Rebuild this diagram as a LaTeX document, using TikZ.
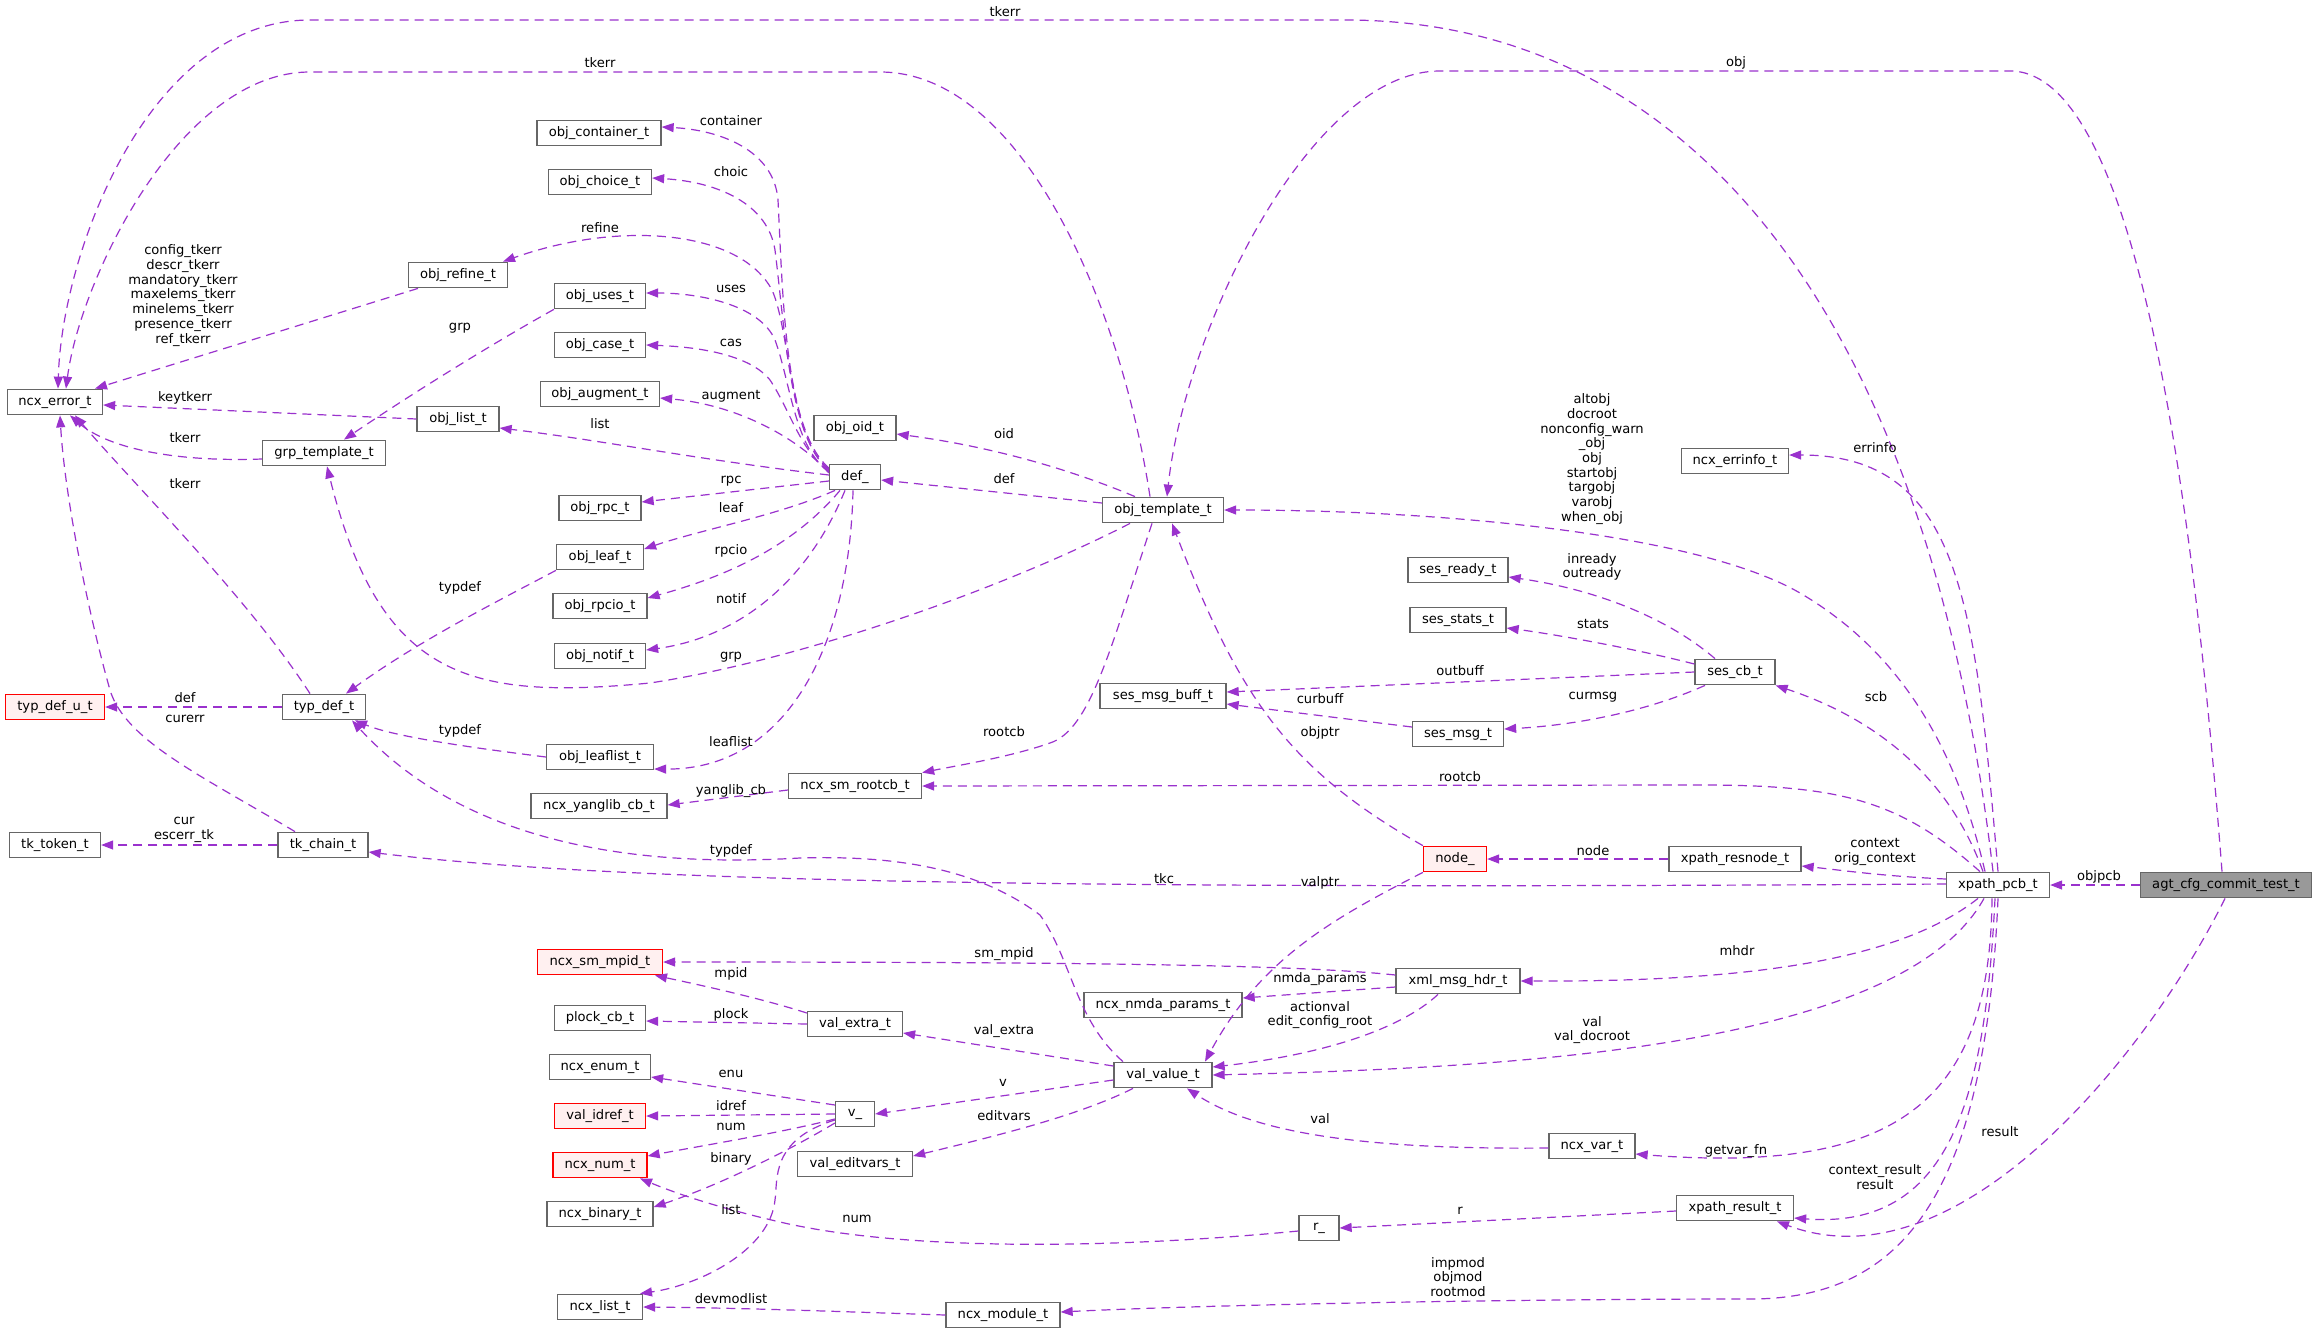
\documentclass[tikz,border=0pt]{standalone}
\usepackage{fontspec}
\setmainfont{DejaVu Sans}
\usetikzlibrary{arrows.meta}
\definecolor{edgec}{HTML}{9A32CD}
\definecolor{boxc}{HTML}{666666}
\definecolor{redc}{HTML}{FF0000}
\definecolor{redf}{HTML}{FFF0F0}
\definecolor{rootf}{HTML}{999999}
\begin{document}
\begin{tikzpicture}[x=1pt,y=-1pt,
  cls/.style={draw=boxc, fill=white, line width=1.3pt, minimum height=25.5pt, inner sep=0pt, font=\fontsize{13.1}{14.7}\selectfont},
  redcls/.style={cls, draw=redc, fill=redf},
  rootcls/.style={cls, fill=rootf},
  lnk/.style={draw=edgec, line width=1.2pt, dash pattern=on 9pt off 6pt, -{Triangle[length=12pt,width=9pt]}},
  lbl/.style={inner sep=0pt, align=center, font=\fontsize{13.1}{14.7}\selectfont}
]
\fill[white] (0,0) rectangle (2317,1333);
\useasboundingbox (0,0) rectangle (2317,1333);

% ---------- nodes ----------
\node[rootcls, minimum width=171pt] (agt) at (2226,885) {agt\_cfg\_commit\_test\_t};
\node[cls, minimum width=103pt] (pcb) at (1998,885) {xpath\_pcb\_t};
\node[cls, minimum width=132pt] (res) at (1735,859) {xpath\_resnode\_t};
\node[redcls, minimum width=63pt] (nodeu) at (1455,859) {node\_};
\node[cls, minimum width=117pt] (xres) at (1735,1208) {xpath\_result\_t};
\node[cls, minimum width=86pt] (var) at (1592,1146) {ncx\_var\_t};
\node[cls, minimum width=124pt] (xml) at (1458,981) {xml\_msg\_hdr\_t};
\node[cls, minimum width=158pt] (nmda) at (1163,1005) {ncx\_nmda\_params\_t};
\node[cls, minimum width=98pt] (val) at (1163,1075) {val\_value\_t};
\node[cls, minimum width=95pt] (vext) at (855,1024) {val\_extra\_t};
\node[cls, minimum width=39pt] (vv) at (855,1114) {v\_};
\node[cls, minimum width=115pt] (vedit) at (855,1164) {val\_editvars\_t};
\node[cls, minimum width=40pt] (r) at (1319,1228) {r\_};
\node[cls, minimum width=114pt] (mod) at (1003,1315) {ncx\_module\_t};
\node[cls, minimum width=85pt] (list) at (600,1307) {ncx\_list\_t};
\node[cls, minimum width=106pt] (binary) at (600,1214) {ncx\_binary\_t};
\node[redcls, minimum width=94pt] (num) at (600,1165) {ncx\_num\_t};
\node[redcls, minimum width=91pt] (idref) at (600,1116) {val\_idref\_t};
\node[cls, minimum width=101pt] (enum) at (600,1067) {ncx\_enum\_t};
\node[cls, minimum width=91pt] (plock) at (600,1018) {plock\_cb\_t};
\node[redcls, minimum width=125pt] (mpid) at (600,962) {ncx\_sm\_mpid\_t};
\node[cls, minimum width=136pt] (yang) at (599,806) {ncx\_yanglib\_cb\_t};
\node[cls, minimum width=133pt] (rootcb) at (855,786) {ncx\_sm\_rootcb\_t};
\node[cls, minimum width=121pt] (tmpl) at (1163,510) {obj\_template\_t};
\node[cls, minimum width=51pt] (def) at (855,477) {def\_};
\node[cls, minimum width=82pt] (oid) at (855,428) {obj\_oid\_t};
\node[cls, minimum width=107pt] (errinfo) at (1735,461) {ncx\_errinfo\_t};
\node[cls, minimum width=100pt] (ready) at (1458,570) {ses\_ready\_t};
\node[cls, minimum width=96pt] (stats) at (1458,620) {ses\_stats\_t};
\node[cls, minimum width=80pt] (sescb) at (1735,672) {ses\_cb\_t};
\node[cls, minimum width=126pt] (buff) at (1163,696) {ses\_msg\_buff\_t};
\node[cls, minimum width=91pt] (msg) at (1458,734) {ses\_msg\_t};
\node[cls, minimum width=95pt] (err) at (55,402) {ncx\_error\_t};
\node[cls, minimum width=124pt] (cont) at (599,133) {obj\_container\_t};
\node[cls, minimum width=103pt] (choice) at (600,182) {obj\_choice\_t};
\node[cls, minimum width=99pt] (refine) at (458,275) {obj\_refine\_t};
\node[cls, minimum width=91pt] (uses) at (600,296) {obj\_uses\_t};
\node[cls, minimum width=91pt] (case) at (600,345) {obj\_case\_t};
\node[cls, minimum width=119pt] (aug) at (600,394) {obj\_augment\_t};
\node[cls, minimum width=82pt] (olist) at (458,419) {obj\_list\_t};
\node[cls, minimum width=123pt] (grp) at (324,453) {grp\_template\_t};
\node[cls, minimum width=82pt] (rpc) at (600,508) {obj\_rpc\_t};
\node[cls, minimum width=87pt] (leaf) at (600,557) {obj\_leaf\_t};
\node[cls, minimum width=94pt] (rpcio) at (600,606) {obj\_rpcio\_t};
\node[cls, minimum width=91pt] (notif) at (600,656) {obj\_notif\_t};
\node[redcls, minimum width=99pt] (tdu) at (55,707) {typ\_def\_u\_t};
\node[cls, minimum width=83pt] (td) at (324,707) {typ\_def\_t};
\node[cls, minimum width=107pt] (llist) at (600,757) {obj\_leaflist\_t};
\node[cls, minimum width=91pt] (tok) at (55,845) {tk\_token\_t};
\node[cls, minimum width=90pt] (chain) at (323,845) {tk\_chain\_t};

% ---------- connectors ----------
\draw[lnk] (agt.west) -- (pcb.east);
\draw[lnk] ([xshift=-4pt]agt.north) .. controls (2195,520) and (2140,71) .. (2010,71) -- (1440,71) .. controls (1310,71) and (1185,330) .. ([xshift=4pt]tmpl.north);
\draw[lnk] ([xshift=-1pt]agt.south) .. controls (2150,1050) and (1960,1290) .. ([xshift=42pt]xres.south);
\draw[lnk] ([xshift=-5pt]pcb.north) .. controls (1930,330) and (1700,20) .. (1345,20) -- (310,20) .. controls (150,20) and (62,250) .. ([xshift=3pt]err.north);
\draw[lnk] ([xshift=-13pt]pcb.north) .. controls (1950,720) and (1880,640) .. (1800,593) .. controls (1700,535) and (1450,510) .. (tmpl.east);
\draw[lnk] (pcb.north) .. controls (1975,600) and (1960,455) .. ([yshift=6pt]errinfo.east);
\draw[lnk] ([xshift=-15pt]pcb.north) .. controls (1950,780) and (1880,720) .. (sescb.south east);
\draw[lnk] ([xshift=-18pt]pcb.north) .. controls (1900,800) and (1840,785) .. (1700,785) -- (rootcb.east);
\draw[lnk] ([yshift=6pt]pcb.west) .. controls (1880,876) and (1840,870) .. ([yshift=-7pt]res.east);
\draw[lnk] ([yshift=1pt]pcb.west) .. controls (1000,890) and (600,880) .. ([yshift=-7pt]chain.east);
\draw[lnk] ([xshift=-20pt]pcb.south) .. controls (1900,960) and (1750,982) .. (xml.east);
\draw[lnk] ([xshift=-14pt]pcb.south) .. controls (1900,1050) and (1500,1068) .. (val.east);
\draw[lnk] ([xshift=-6pt]pcb.south) .. controls (1990,1100) and (1900,1175) .. ([yshift=-8pt]var.east);
\draw[lnk] ([xshift=-3pt]pcb.south) .. controls (1985,1100) and (1950,1230) .. ([yshift=-10pt]xres.east);
\draw[lnk] (pcb.south) .. controls (1985,1200) and (1900,1299) .. (1750,1299) .. controls (1500,1299) and (1200,1305) .. ([yshift=3pt]mod.east);
\draw[lnk] (res.west) -- (nodeu.east);
\draw[lnk] (nodeu.north west) .. controls (1290,770) and (1240,700) .. ([xshift=9pt]tmpl.south);
\draw[lnk] (nodeu.south west) .. controls (1330,920) and (1260,960) .. ([xshift=42pt]val.north);
\draw[lnk] ([xshift=-20pt]sescb.north) .. controls (1670,620) and (1600,590) .. ([yshift=-7pt]ready.east);
\draw[lnk] ([yshift=8pt]sescb.west) .. controls (1640,650) and (1560,635) .. ([yshift=-8pt]stats.east);
\draw[lnk] (sescb.west) -- ([yshift=4pt]buff.east);
\draw[lnk] ([xshift=-30pt]sescb.south) .. controls (1650,710) and (1580,725) .. ([yshift=5pt]msg.east);
\draw[lnk] ([yshift=7pt]msg.west) -- ([yshift=-8pt]buff.east);
\draw[lnk] ([yshift=6pt]xml.west) .. controls (1300,965) and (1100,962) .. (mpid.east);
\draw[lnk] ([yshift=-6pt]xml.west) -- ([yshift=7pt]nmda.east);
\draw[lnk] ([xshift=-20pt]xml.south) .. controls (1400,1030) and (1320,1055) .. ([yshift=8pt]val.east);
\draw[lnk] ([yshift=-2pt]var.west) .. controls (1350,1150) and (1250,1130) .. ([xshift=24pt]val.south);
\draw[lnk] ([yshift=-3pt]xres.west) -- (r.east);
\draw[lnk] ([yshift=-3pt]r.west) .. controls (1100,1250) and (900,1250) .. (780,1222) .. controls (720,1208) and (680,1195) .. ([xshift=40pt]num.south);
\draw[lnk] (mod.west) .. controls (850,1312) and (750,1308) .. (list.east);
\draw[lnk] ([xshift=-40pt]val.north) .. controls (1075,1020) and (1072,960) .. (1040,915) .. controls (980,870) and (900,855) .. (800,858) .. controls (680,865) and (480,860) .. ([xshift=28pt]td.south);
\draw[lnk] ([yshift=9pt]val.west) -- ([yshift=-9pt]vext.east);
\draw[lnk] ([yshift=-5pt]val.west) -- (vv.east);
\draw[lnk] ([xshift=-30pt]val.south) .. controls (1080,1115) and (1000,1135) .. ([yshift=8pt]vedit.east);
\draw[lnk] ([yshift=11pt]vext.west) .. controls (760,998) and (700,985) .. ([xshift=55pt]mpid.south);
\draw[lnk] (vext.west) -- ([yshift=-3pt]plock.east);
\draw[lnk] ([yshift=9pt]vv.west) -- ([yshift=-10pt]enum.east);
\draw[lnk] (vv.west) -- (idref.east);
\draw[lnk] ([yshift=-5pt]vv.west) .. controls (780,1133) and (700,1146) .. ([yshift=9pt]num.east);
\draw[lnk] ([yshift=-9pt]vv.west) .. controls (790,1150) and (720,1185) .. ([yshift=7pt]binary.east);
\draw[lnk] ([yshift=-6pt]vv.west) .. controls (770,1140) and (778,1180) .. (775,1200) .. controls (770,1250) and (700,1285) .. ([xshift=40pt]list.north);
\draw[lnk] ([xshift=-13pt]tmpl.north) .. controls (1120,300) and (1020,72) .. (880,72) -- (310,72) .. controls (180,72) and (80,280) .. ([xshift=11pt]err.north);
\draw[lnk] ([xshift=-28pt]tmpl.north) .. controls (1060,465) and (980,445) .. ([yshift=-6pt]oid.east);
\draw[lnk] ([yshift=7pt]tmpl.west) -- ([yshift=-3pt]def.east);
\draw[lnk] ([xshift=-33pt]tmpl.south) .. controls (1000,590) and (800,660) .. (650,683) .. controls (470,700) and (380,680) .. ([xshift=3pt]grp.south);
\draw[lnk] ([xshift=-11pt]tmpl.south) .. controls (1110,650) and (1090,730) .. (1050,743) .. controls (1010,757) and (960,765) .. (rootcb.north east);
\draw[lnk] ([yshift=-4pt]rootcb.west) -- ([yshift=1pt]yang.east);
\draw[lnk] ([yshift=9pt]def.west) .. controls (785,430) and (783,300) .. (778,200) .. controls (774,150) and (720,130) .. ([yshift=6pt]cont.east);
\draw[lnk] ([yshift=8pt]def.west) .. controls (790,440) and (785,330) .. (775,250) .. controls (768,205) and (720,182) .. ([yshift=4pt]choice.east);
\draw[lnk] ([yshift=7pt]def.west) .. controls (790,440) and (790,330) .. (772,290) .. controls (740,230) and (620,220) .. ([xshift=45pt]refine.north);
\draw[lnk] ([yshift=6pt]def.west) .. controls (795,450) and (790,380) .. (775,340) .. controls (760,305) and (700,293) .. ([yshift=3pt]uses.east);
\draw[lnk] ([yshift=5pt]def.west) .. controls (800,450) and (790,410) .. (770,380) .. controls (750,355) and (700,347) .. (case.east);
\draw[lnk] ([yshift=4pt]def.west) .. controls (800,440) and (740,405) .. ([yshift=-4pt]aug.east);
\draw[lnk] ([yshift=2pt]def.west) .. controls (700,460) and (600,440) .. ([yshift=-9pt]olist.east);
\draw[lnk] ([yshift=-4pt]def.west) -- ([yshift=6pt]rpc.east);
\draw[lnk] ([xshift=-20pt]def.south) .. controls (780,515) and (700,530) .. ([yshift=8pt]leaf.east);
\draw[lnk] ([xshift=-15pt]def.south) .. controls (790,550) and (720,578) .. ([yshift=8pt]rpcio.east);
\draw[lnk] ([xshift=-10pt]def.south) .. controls (800,600) and (720,640) .. ([yshift=6pt]notif.east);
\draw[lnk] ([xshift=-2pt]def.south) .. controls (850,640) and (790,770) .. ([yshift=-12pt]llist.east);
\draw[lnk] ([xshift=-40pt]refine.south) -- ([xshift=40pt]err.north);
\draw[lnk] (uses.south west) .. controls (490,345) and (410,395) .. ([xshift=20pt]grp.north);
\draw[lnk] (olist.west) -- ([yshift=-3pt]err.east);
\draw[lnk] ([yshift=-6pt]grp.west) .. controls (180,462) and (110,450) .. ([xshift=15pt]err.south);
\draw[lnk] (leaf.south west) .. controls (500,600) and (420,640) .. ([xshift=22pt]td.north);
\draw[lnk] (llist.west) .. controls (450,745) and (390,735) .. ([xshift=31pt]td.south);
\draw[lnk] ([xshift=-14pt]td.north) .. controls (250,600) and (130,480) .. ([xshift=20pt]err.south);
\draw[lnk] (td.west) -- (tdu.east);
\draw[lnk] ([xshift=-28pt]chain.north) .. controls (200,775) and (125,740) .. (110,690) .. controls (90,620) and (65,500) .. ([xshift=5pt]err.south);
\draw[lnk] (chain.west) -- (tok.east);

% ---------- labels ----------
\node[lbl] (l01) at (2099,877) {objpcb};
\node[lbl] (l02) at (1736,63) {obj};
\node[lbl] (l03) at (2000,1132) {result};
\node[lbl] (l04) at (1005,12) {tkerr};
\node[lbl] (l05) at (1592,459) {altobj\\docroot\\nonconfig\_warn\\\_obj\\obj\\startobj\\targobj\\varobj\\when\_obj};
\node[lbl] (l06) at (1875,448) {errinfo};
\node[lbl] (l07) at (1876,697) {scb};
\node[lbl] (l08) at (1460,777) {rootcb};
\node[lbl] (l09) at (1875,852) {context\\orig\_context};
\node[lbl] (l10) at (1164,879) {tkc};
\node[lbl] (l11) at (1737,951) {mhdr};
\node[lbl] (l12) at (1592,1030) {val\\val\_docroot};
\node[lbl] (l13) at (1736,1151) {getvar\_fn};
\node[lbl] (l14) at (1875,1177) {context\_result\\result};
\node[lbl] (l15) at (1458,1277) {impmod\\objmod\\rootmod};
\node[lbl] (l16) at (1593,851) {node};
\node[lbl] (l17) at (1320,733) {objptr};
\node[lbl] (l18) at (1320,883) {valptr};
\node[lbl] (l19) at (1592,567) {inready\\outready};
\node[lbl] (l20) at (1593,624) {stats};
\node[lbl] (l21) at (1460,671) {outbuff};
\node[lbl] (l22) at (1593,697) {curmsg};
\node[lbl] (l23) at (1320,699) {curbuff};
\node[lbl] (l24) at (1004,954) {sm\_mpid};
\node[lbl] (l25) at (1320,979) {nmda\_params};
\node[lbl] (l26) at (1320,1015) {actionval\\edit\_config\_root};
\node[lbl] (l27) at (1320,1119) {val};
\node[lbl] (l28) at (1460,1211) {r};
\node[lbl] (l29) at (857,1219) {num};
\node[lbl] (l30) at (731,1299) {devmodlist};
\node[lbl] (l31) at (731,851) {typdef};
\node[lbl] (l32) at (1004,1031) {val\_extra};
\node[lbl] (l33) at (1003,1083) {v};
\node[lbl] (l34) at (1004,1116) {editvars};
\node[lbl] (l35) at (731,974) {mpid};
\node[lbl] (l36) at (731,1015) {plock};
\node[lbl] (l37) at (731,1074) {enu};
\node[lbl] (l38) at (731,1106) {idref};
\node[lbl] (l39) at (731,1127) {num};
\node[lbl] (l40) at (731,1159) {binary};
\node[lbl] (l41) at (731,1210) {list};
\node[lbl] (l42) at (600,63) {tkerr};
\node[lbl] (l43) at (1004,434) {oid};
\node[lbl] (l44) at (1004,479) {def};
\node[lbl] (l45) at (731,657) {grp};
\node[lbl] (l46) at (1004,732) {rootcb};
\node[lbl] (l47) at (731,791) {yanglib\_cb};
\node[lbl] (l48) at (731,121) {container};
\node[lbl] (l49) at (731,172) {choic};
\node[lbl] (l50) at (600,228) {refine};
\node[lbl] (l51) at (731,289) {uses};
\node[lbl] (l52) at (731,343) {cas};
\node[lbl] (l53) at (731,396) {augment};
\node[lbl] (l54) at (600,424) {list};
\node[lbl] (l55) at (731,481) {rpc};
\node[lbl] (l56) at (731,508) {leaf};
\node[lbl] (l57) at (731,551) {rpcio};
\node[lbl] (l58) at (731,599) {notif};
\node[lbl] (l59) at (731,742) {leaflist};
\node[lbl] (l60) at (183,295.5) {config\_tkerr\\descr\_tkerr\\mandatory\_tkerr\\maxelems\_tkerr\\minelems\_tkerr\\presence\_tkerr\\ref\_tkerr};
\node[lbl] (l61) at (460,328) {grp};
\node[lbl] (l62) at (185,398) {keytkerr};
\node[lbl] (l63) at (185,438) {tkerr};
\node[lbl] (l64) at (460,588) {typdef};
\node[lbl] (l65) at (460,731) {typdef};
\node[lbl] (l66) at (185,484) {tkerr};
\node[lbl] (l67) at (185,698) {def};
\node[lbl] (l68) at (185,719) {curerr};
\node[lbl] (l69) at (184,830) {cur\\escerr\_tk};
\end{tikzpicture}
\end{document}
